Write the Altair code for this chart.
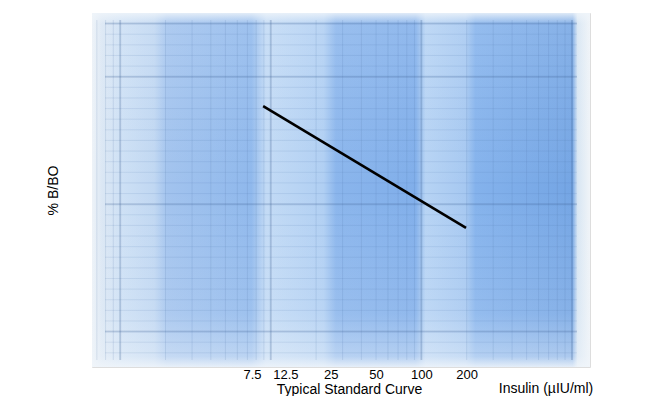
import altair as alt
import pandas as pd

# ---- data ----
insulin = [8.9, 198]           # µIU/ml (line end points)
bb0 = [73.7, 39.3]             # % B/B0
tick_values = [7.5, 12.5, 25, 50, 100, 200]

# decoration: log-paper grid lines
vgrid = [0.7, 0.8, 0.9, 1, 2, 3, 4, 5, 6, 7, 8, 9, 10, 20, 30, 40, 50, 60,
         70, 80, 90, 100, 200, 300, 400, 500, 600, 700, 800, 900, 1000]
vmajor = [1, 10, 100, 1000]
hgrid = [4, 7, 10, 13, 16, 19, 22, 25, 28, 31, 34, 37, 40, 43, 46, 49, 52,
         55, 58, 61, 64, 67, 70, 73, 76, 79, 82, 85, 88, 91, 94, 97]
hmajor = [10, 46, 82, 97]

W, H = 498, 354
FONT = "Liberation Sans"

xscale = alt.Scale(type="log", domain=[0.65, 1318])
yscale = alt.Scale(domain=[0, 100])

xaxis = alt.Axis(values=tick_values, title="Typical Standard Curve",
                 labelExpr="'' + datum.value",
                 grid=False, ticks=False, domain=False,
                 labelFont=FONT, labelFontSize=13, labelColor="#000",
                 labelPadding=1, labelFlush=False, labelOverlap=False,
                 titleFont=FONT, titleFontSize=14,
                 titleFontWeight="normal", titleColor="#000",
                 titleX=257, titleY=26, titleBaseline="alphabetic")
yaxis = alt.Axis(title="% B/BO", labels=False, ticks=False,
                 domain=False, grid=False,
                 titleFont=FONT, titleFontSize=14,
                 titleFontWeight="normal", titleColor="#000",
                 titlePadding=32)

one = pd.DataFrame({"a": [0]})

band = alt.LinearGradient(
    gradient="linear", x1=0, x2=1, y1=0, y2=0,
    stops=[
        alt.GradientStop(offset=0.0, color="#eef3f8"),
        alt.GradientStop(offset=0.02, color="#dbe7f4"),
        alt.GradientStop(offset=0.06, color="#cde0f5"),
        alt.GradientStop(offset=0.125, color="#c0d7f2"),
        alt.GradientStop(offset=0.15, color="#a2c3ee"),
        alt.GradientStop(offset=0.32, color="#8fb8ec"),
        alt.GradientStop(offset=0.35, color="#c2daf5"),
        alt.GradientStop(offset=0.465, color="#b0cff3"),
        alt.GradientStop(offset=0.49, color="#8ab5ec"),
        alt.GradientStop(offset=0.65, color="#80aeea"),
        alt.GradientStop(offset=0.67, color="#b6d3f4"),
        alt.GradientStop(offset=0.75, color="#a6c8f1"),
        alt.GradientStop(offset=0.77, color="#84b2ec"),
        alt.GradientStop(offset=0.965, color="#74a5e4"),
        alt.GradientStop(offset=0.975, color="#d8e6f3"),
        alt.GradientStop(offset=1.0, color="#f0f4f8"),
    ],
)
vfade = alt.LinearGradient(
    gradient="linear", x1=0, x2=0, y1=0, y2=1,
    stops=[
        alt.GradientStop(offset=0.0, color="rgba(240,245,250,0.85)"),
        alt.GradientStop(offset=0.03, color="rgba(240,245,250,0.15)"),
        alt.GradientStop(offset=0.5, color="rgba(240,245,250,0.0)"),
        alt.GradientStop(offset=0.85, color="rgba(240,245,250,0.15)"),
        alt.GradientStop(offset=0.97, color="rgba(240,245,250,0.45)"),
        alt.GradientStop(offset=1.0, color="rgba(240,245,250,0.9)"),
    ],
)

bg = alt.Chart(one).mark_rect(fill=band).encode(
    x=alt.value(0), x2=alt.value(W), y=alt.value(0), y2=alt.value(H))
fade = alt.Chart(one).mark_rect(fill=vfade).encode(
    x=alt.value(0), x2=alt.value(W), y=alt.value(0), y2=alt.value(H))

vg = alt.Chart(pd.DataFrame({"v": vgrid})).mark_rule(
    color="#4f74a8", opacity=0.16, strokeWidth=1).encode(
    x=alt.X("v:Q", scale=xscale, axis=xaxis),
    y=alt.value(7), y2=alt.value(H - 7))
vgm = alt.Chart(pd.DataFrame({"v": vmajor})).mark_rule(
    color="#3d5f92", opacity=0.18, strokeWidth=2).encode(
    x=alt.X("v:Q", scale=xscale, axis=xaxis),
    y=alt.value(7), y2=alt.value(H - 7))
hg = alt.Chart(pd.DataFrame({"h": hgrid})).mark_rule(
    color="#4f74a8", opacity=0.13, strokeWidth=1).encode(
    y=alt.Y("h:Q", scale=yscale, axis=yaxis),
    x=alt.value(13), x2=alt.value(W - 13))
hgm = alt.Chart(pd.DataFrame({"h": hmajor})).mark_rule(
    color="#3d5f92", opacity=0.18, strokeWidth=2).encode(
    y=alt.Y("h:Q", scale=yscale, axis=yaxis),
    x=alt.value(13), x2=alt.value(W - 13))

line = alt.Chart(pd.DataFrame({"insulin": insulin, "bb0": bb0})).mark_line(
    color="black", strokeWidth=2.6).encode(
    x=alt.X("insulin:Q", scale=xscale, axis=xaxis),
    y=alt.Y("bb0:Q", scale=yscale, axis=yaxis),
)

unit = alt.Chart(one).mark_text(
    text="Insulin  (\u00b5IU/ml)", font=FONT, fontSize=14, color="#000",
    align="center", baseline="alphabetic").encode(
    x=alt.value(454), y=alt.value(380))

chart = alt.layer(bg, fade, vg, hg, vgm, hgm, line, unit).properties(
    width=W, height=H,
    autosize=alt.AutoSizeParams(type="none"),
    padding={"left": 84, "top": 5, "right": 60, "bottom": 29},
).configure_view(stroke=None).configure(background="white")

chart.save("out.html", embed_options={"renderer": "svg", "actions": False})
